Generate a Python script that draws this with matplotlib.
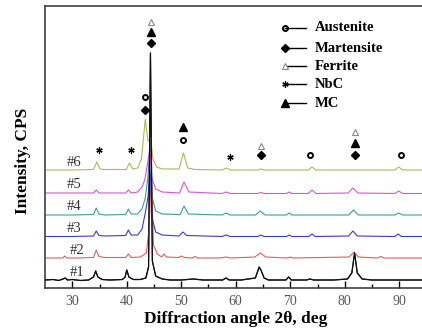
import matplotlib
matplotlib.use("Agg")
import matplotlib.pyplot as plt

plt.rcParams['font.family'] = ['Liberation Serif', 'DejaVu Serif']

# 2-theta points and peak heights (above each pattern's baseline)
x1 = [25, 26.5, 27.5, 28.3, 28.7, 29.1, 30, 31.5, 33, 33.9, 34.3, 34.7, 35.5, 37, 39.2, 39.7, 40.0, 40.4,
      41.2, 42.5, 43.5, 44.0, 44.35, 44.7, 45.3, 46.5, 48, 50, 52.2, 54, 57.6, 58.2, 58.8, 61, 63.6, 64.3,
      64.7, 65.2, 66, 69.2, 69.7, 70.2, 73, 73.6, 74.3, 78, 80.5, 81.3, 81.8, 82.3, 83.2, 85, 88, 90, 95]
y1 = [1, 1.5, 0.5, 2, 3, 1, 1.5, 0.5, 1, 4, 10, 4, 1.5, 1, 1.5, 4, 11, 4,
      1.5, 1.5, 3, 14, 228, 20, 5, 2, 1, 1, 2, 1, 1, 3, 1, 1, 3, 14,
      10, 3, 1, 1, 4, 1, 1, 2, 1, 1, 2, 8, 28, 8, 2, 1, 1, 1, 1]

x2 = [25, 27, 28.3, 28.6, 29, 31, 33.9, 34.4, 34.9, 36, 39.8, 40.3, 40.8, 42.5, 43.6, 44.1, 44.5, 44.9,
      45.6, 46.4, 46.8, 47.3, 49.5, 50.0, 50.6, 52, 52.5, 53, 57, 58.3, 59, 63.5, 64.5, 65.5, 69.5, 70,
      70.5, 80.8, 81.7, 82.5, 86, 86.6, 87.2, 95]
y2 = [1, 1, 1, 3, 1, 1, 1.5, 9, 2.5, 1.5, 1.5, 5, 1.5, 2, 6, 30, 84, 14,
      5, 2, 5, 2, 1.5, 3, 1.5, 1, 2.5, 1, 1, 2, 1, 2, 6, 2, 1, 2,
      1, 2, 7, 2, 1, 2.5, 1, 1]

x3 = [25, 30, 33.9, 34.4, 34.9, 36, 39.8, 40.3, 40.8, 42, 42.8, 43.4, 43.9, 44.3, 44.7, 45.3, 46.5, 49.6,
      50.3, 51, 57.5, 58.2, 59, 64, 64.6, 65.2, 69.3, 69.8, 70.3, 73.4, 74, 74.6, 80.7, 81.5, 82.3, 89.2,
      89.8, 90.4, 95]
y3 = [0.5, 0.5, 1, 6, 1.5, 1, 1.5, 7, 2, 2, 8, 24, 40, 67, 18, 5, 2, 1,
      5, 1.5, 0.5, 2, 0.5, 0.5, 2, 0.5, 0.5, 2, 0.5, 0.5, 3, 0.5, 1, 6, 1, 0.5,
      3, 0.5, 0.5]

x4 = [25, 30, 33.9, 34.4, 34.9, 36, 39.8, 40.3, 40.8, 42, 42.8, 43.4, 43.9, 44.3, 44.7, 45.3, 46.5, 49.8,
      50.5, 51.3, 57.5, 58.2, 59, 63.6, 64.5, 65.4, 69.3, 69.8, 70.3, 80.7, 81.6, 82.5, 89.2, 89.9, 90.6, 95]
y4 = [1, 1, 1.5, 8, 2, 1, 1.5, 7, 2, 2, 7, 18, 40, 71, 18, 5, 2, 1.5,
      10, 2, 1, 3, 1, 1, 5, 1, 1, 3, 1, 1, 6, 1, 1, 3, 1, 1]

x5 = [25, 30, 33.9, 34.4, 34.9, 36, 39.8, 40.3, 40.8, 42, 42.8, 43.3, 43.8, 44.2, 44.6, 45.3, 46.5, 49.7,
      50.5, 51.4, 57.5, 58.2, 59, 64, 64.6, 65.2, 69.3, 69.8, 70.3, 73.3, 74, 74.7, 80.6, 81.5, 82.4, 89.2,
      89.9, 90.6, 95]
y5 = [1, 1, 1, 4, 1, 1, 1, 4, 1, 2, 7, 14, 30, 44, 16, 5, 2, 1,
      12, 2, 0.5, 2, 0.5, 0.5, 1.5, 0.5, 0.5, 2, 0.5, 0.5, 4, 0.5, 1, 6, 1, 0.5,
      3, 0.5, 0.5]

x6 = [25, 30, 33.9, 34.5, 35.1, 36, 39.9, 40.5, 41.1, 42, 42.7, 43.4, 43.9, 44.4, 44.8, 45.5, 46.5, 49.6,
      50.4, 51.2, 52.5, 57.5, 58.3, 59, 64, 64.6, 65.2, 73.3, 74, 74.7, 89.2, 89.9, 90.6, 95]
y6 = [1, 1, 1.5, 9, 2, 1.5, 1.5, 8, 2, 3, 12, 52, 30, 33, 12, 4, 2, 2,
      18, 3, 1.5, 1, 3, 1, 1, 2, 1, 1, 4, 1, 1, 4, 1, 1]

xs = [x1, x2, x3, x4, x5, x6]
ys = [y1, y2, y3, y4, y5, y6]
offsets = [7, 29, 51, 72, 94, 117]
names = ['#1', '#2', '#3', '#4', '#5', '#6']
colors = ['#111111', '#e0605f', '#3a3ac8', '#3f9e8c', '#d855d8', '#b4b45a']
label_x = [29.5, 29.5, 29.0, 29.0, 29.0, 29.0]

# phase markers: (2theta, height)
austenite = [(43.4, 191), (50.4, 148), (73.7, 133), (90.4, 133)]
martensite = [(43.4, 178), (44.5, 245), (64.7, 133), (81.9, 133)]
ferrite = [(44.5, 266), (64.7, 142), (81.9, 156)]
nbc = [(34.9, 138), (40.8, 138), (59.0, 131)]
mc = [(44.5, 256), (50.4, 161), (81.9, 145)]

fig = plt.figure(figsize=(4.22, 3.29), dpi=100)
ax = fig.add_axes([45 / 422, 41 / 329, 381.5 / 422, 282 / 329])

for x, y, off, c in zip(xs, ys, offsets, colors):
    ax.plot(x, [v + off for v in y], color=c, lw=0.8)
# black pattern on top, like the original
ax.plot(x1, [v + offsets[0] for v in y1], color=colors[0], lw=0.9, zorder=5)

for name, off, lx in zip(names, offsets, label_x):
    ax.text(lx, off + 9, name, fontsize=10.5, color='#333333', va='center', ha='left')

o_style = dict(marker='o', ms=3.6, mfc='none', mec='black', mew=1.4)
d_style = dict(marker='D', ms=3.8, mfc='black', mec='black')
f_style = dict(marker='^', ms=5, mfc='white', mec='#888888', mew=0.8)
n_style = dict(marker=(6, 2, 0), ms=4.5, mec='black', mew=0.9)
m_style = dict(marker='^', ms=5.5, mfc='black', mec='black')

def put(points, st):
    ax.plot([p[0] for p in points], [p[1] for p in points], ls='none', zorder=6, **st)

put(austenite, o_style)
put(martensite, d_style)
put(ferrite, f_style)
put(nbc, n_style)
put(mc, m_style)

# legend drawn by hand: marker on the left, short line after it
leg_y = [0.923, 0.851, 0.787, 0.723, 0.656]
leg_names = ['Austenite', 'Martensite', 'Ferrite', 'NbC', 'MC']
leg_styles = [o_style, d_style, f_style, n_style, m_style]
for yy, nm, st in zip(leg_y, leg_names, leg_styles):
    ax.plot([0.630, 0.685], [yy, yy], color='black', lw=1.0, transform=ax.transAxes)
    ax.plot([0.630], [yy], transform=ax.transAxes, ls='none', **st)
    ax.text(0.707, yy, nm, transform=ax.transAxes, fontsize=10.5, fontweight='bold',
            va='center', ha='left')

ax.set_xlim(25, 95)
ax.set_ylim(0, 282)
ax.set_xticks([30, 40, 50, 60, 70, 80, 90])
ax.set_xticks([35, 45, 55, 65, 75, 85], minor=True)
ax.set_yticks([])
ax.tick_params(axis='x', which='major', direction='in', length=5, width=1.0,
               labelsize=10, labelcolor='#555555', pad=5)
ax.tick_params(axis='x', which='minor', direction='in', length=3, width=1.0)
for s in ax.spines.values():
    s.set_color('#404040')
    s.set_linewidth(1.2)

ax.set_xlabel('Diffraction angle 2θ, deg', fontsize=12.5, fontweight='bold', labelpad=2)
ax.set_ylabel('Intensity, CPS', fontsize=12.5, fontweight='bold')
ax.yaxis.set_label_coords(-0.038, 0.45)

fig.savefig('out.png', dpi=100)
